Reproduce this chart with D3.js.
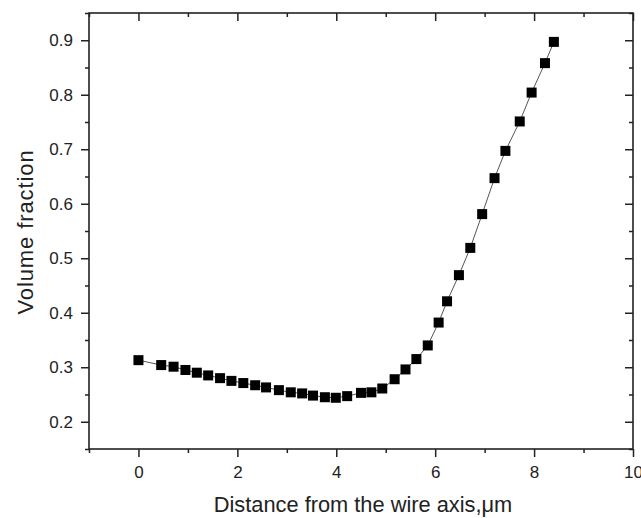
<!DOCTYPE html>
<html>
<head>
<meta charset="utf-8">
<script src="https://cdn.jsdelivr.net/npm/d3@7"></script>
<style>
  body { margin: 0; background: #fff; }
  text { font-family: "Liberation Sans", Arial, sans-serif; fill: #222; }
</style>
</head>
<body>
<svg id="chart" width="641" height="518"></svg>
<script>
// distance from the wire axis (µm) and volume fraction
const distance = [0, 0.46, 0.71, 0.95, 1.18, 1.41, 1.65, 1.88, 2.12, 2.36, 2.58, 2.84, 3.08, 3.31, 3.53,
	3.77, 3.99, 4.22, 4.50, 4.71, 4.93, 5.18, 5.40, 5.62, 5.85, 6.07, 6.24, 6.48, 6.71, 6.95,
	7.20, 7.42, 7.71, 7.95, 8.22, 8.40];
const fraction = [0.313, 0.304, 0.301, 0.295, 0.290, 0.285, 0.280, 0.275, 0.271, 0.267, 0.263, 0.258, 0.254, 0.252, 0.248,
	0.245, 0.244, 0.247, 0.253, 0.254, 0.261, 0.278, 0.296, 0.315, 0.340, 0.382, 0.421, 0.469, 0.519, 0.581,
	0.647, 0.697, 0.751, 0.804, 0.858, 0.897];
const xTicks = [0, 2, 4, 6, 8, 10];
const xMinor = [-1, 1, 3, 5, 7, 9];
const yTicks = [0.2, 0.3, 0.4, 0.5, 0.6, 0.7, 0.8, 0.9];
const yMinor = [0.15, 0.25, 0.35, 0.45, 0.55, 0.65, 0.75, 0.85, 0.95];

const svg = d3.select("#chart");
const plotLeft = 89, plotRight = 633, plotTop = 13, plotBottom = 449;

const x = d3.scaleLinear().domain([-1, 10]).range([plotLeft, plotRight]);
const y = d3.scaleLinear().domain([0.15, 0.95]).range([plotBottom, plotTop]);

const axisColor = "#222";
const major = 8, minor = 4;

// bottom axis: major ticks with labels, outward
svg.append("g").attr("transform", `translate(0,${plotBottom})`)
	.call(d3.axisBottom(x).tickValues(xTicks).tickSize(major).tickPadding(9).tickFormat(d3.format("d")));
svg.append("g").attr("transform", `translate(0,${plotBottom})`)
	.call(d3.axisBottom(x).tickValues(xMinor).tickSize(minor).tickFormat(""));

// left axis
svg.append("g").attr("transform", `translate(${plotLeft},0)`)
	.call(d3.axisLeft(y).tickValues(yTicks).tickSize(major).tickPadding(8).tickFormat(d3.format(".1f")));
svg.append("g").attr("transform", `translate(${plotLeft},0)`)
	.call(d3.axisLeft(y).tickValues(yMinor).tickSize(minor).tickFormat(""));

// top and right mirrored ticks, pointing inward
svg.append("g").attr("transform", `translate(0,${plotTop})`)
	.call(d3.axisBottom(x).tickValues(xTicks).tickSize(major).tickFormat(""));
svg.append("g").attr("transform", `translate(0,${plotTop})`)
	.call(d3.axisBottom(x).tickValues(xMinor).tickSize(minor).tickFormat(""));
svg.append("g").attr("transform", `translate(${plotRight},0)`)
	.call(d3.axisLeft(y).tickValues(yTicks).tickSize(major).tickFormat(""));
svg.append("g").attr("transform", `translate(${plotRight},0)`)
	.call(d3.axisLeft(y).tickValues(yMinor).tickSize(minor).tickFormat(""));

svg.selectAll(".domain").remove();
svg.selectAll(".tick line").attr("stroke", axisColor).attr("stroke-width", 1.5);
svg.selectAll(".tick text").attr("font-size", 17).attr("fill", "#222")
	.attr("font-family", "'Liberation Sans', Arial, sans-serif");

// frame
svg.append("rect")
	.attr("x", plotLeft).attr("y", plotTop)
	.attr("width", plotRight - plotLeft).attr("height", plotBottom - plotTop)
	.attr("fill", "none").attr("stroke", axisColor).attr("stroke-width", 1.6);

const points = distance.map((d, i) => ({ x: d, y: fraction[i] }));

svg.append("path")
	.datum(points)
	.attr("fill", "none")
	.attr("stroke", "#555")
	.attr("stroke-width", 1)
	.attr("d", d3.line().x((d) => x(d.x)).y((d) => y(d.y)));

const s = 10;
svg.append("g")
	.selectAll("rect")
	.data(points)
	.join("rect")
	.attr("x", (d) => x(d.x) - s / 2)
	.attr("y", (d) => y(d.y) - s / 2)
	.attr("width", s)
	.attr("height", s)
	.attr("fill", "#000");

// axis titles
svg.append("text")
	.attr("x", 363)
	.attr("y", 512)
	.attr("text-anchor", "middle")
	.attr("font-size", 21.8)
	.text("Distance from the wire axis,μm");

svg.append("text")
	.attr("transform", `translate(33,232) rotate(-90)`)
	.attr("text-anchor", "middle")
	.attr("font-size", 22)
	.attr("letter-spacing", 0.9)
	.text("Volume fraction");
</script>
</body>
</html>
